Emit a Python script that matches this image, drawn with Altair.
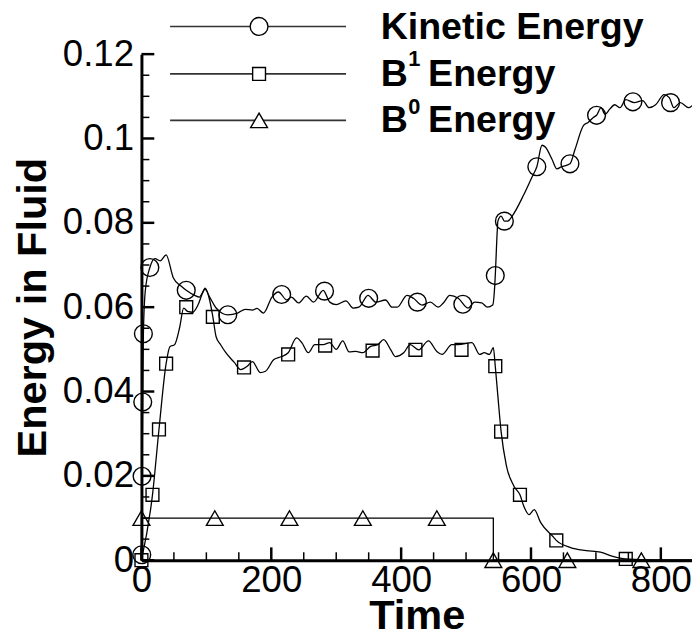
import altair as alt
import pandas as pd

# ---------------- data ----------------
ke_t = [0, 0.5, 1, 2, 3, 6, 13, 21, 29, 38, 49, 61, 69, 82, 89, 98, 105, 115, 125, 133,
        148, 160, 171, 178, 188, 201, 211, 224, 231, 242, 254, 265, 280, 290, 300, 315,
        326, 335, 349, 361, 376, 386, 394, 409, 419, 432, 445, 457, 465, 475, 488, 503,
        513, 524, 533, 541, 544, 545, 548, 549, 554, 559, 564, 571, 589, 602, 609, 617,
        622, 632, 640, 647, 660, 668, 681, 688, 696, 701, 708, 714, 721, 729, 737, 746,
        759, 772, 782, 792, 805, 813, 820, 830, 843, 848]
ke_v = [0.0, 0.0013, 0.0199, 0.0375, 0.0537, 0.0640, 0.0694, 0.0715, 0.0710, 0.0724,
        0.0670, 0.0650, 0.0640, 0.0628, 0.0624, 0.0642, 0.0624, 0.0598, 0.0585, 0.0582,
        0.0586, 0.0595, 0.0593, 0.0597, 0.0586, 0.0624, 0.0636, 0.0617, 0.0624, 0.0610,
        0.0626, 0.0612, 0.0640, 0.0612, 0.0606, 0.0615, 0.0598, 0.0600, 0.0628, 0.0612,
        0.0617, 0.0600, 0.0600, 0.0628, 0.0621, 0.0605, 0.0612, 0.0600, 0.0610, 0.0628,
        0.0621, 0.0598, 0.0612, 0.0610, 0.0600, 0.0605, 0.0647, 0.0675, 0.0780, 0.0804,
        0.0816, 0.0804, 0.0804, 0.0816, 0.0867, 0.0910, 0.0933, 0.0984, 0.0980, 0.0952,
        0.0928, 0.0933, 0.0940, 0.0975, 0.1031, 0.1038, 0.1050, 0.1055, 0.1073, 0.1057,
        0.1069, 0.1080, 0.1073, 0.1092, 0.1085, 0.1090, 0.1073, 0.1080, 0.1104, 0.1097,
        0.1073, 0.1085, 0.1073, 0.1078]
ke_mark_t = [0.5, 1, 2, 3, 13, 69, 133, 216, 282, 350, 425, 495, 545, 559, 609, 660, 701, 757, 815]
ke_mark_v = [0.0013, 0.0199, 0.0375, 0.0537, 0.0694, 0.0640, 0.0582, 0.0630, 0.0638, 0.0621,
             0.0612, 0.0607, 0.0675, 0.0804, 0.0933, 0.0940, 0.1055, 0.1087, 0.1085]

b1_t = [0, 17, 27, 38, 44, 51, 59, 65, 71, 79, 87, 94, 98, 105, 110, 115, 122, 130, 143,
        153, 163, 171, 183, 191, 204, 216, 226, 239, 247, 257, 267, 280, 290, 300, 310,
        320, 330, 341, 353, 364, 373, 384, 391, 404, 414, 427, 442, 455, 463, 478, 488,
        509, 521, 528, 536, 542, 545, 549, 554, 562, 574, 583, 589, 597, 605, 615, 635,
        639, 661, 685, 707, 726, 746, 780, 848]
b1_v = [0.0, 0.0155, 0.0310, 0.0466, 0.0507, 0.0511, 0.0553, 0.0598, 0.0590, 0.0588,
        0.0605, 0.0633, 0.0645, 0.0617, 0.0577, 0.0530, 0.0511, 0.0492, 0.0469, 0.0452,
        0.0460, 0.0471, 0.0445, 0.0448, 0.0476, 0.0483, 0.0492, 0.0527, 0.0516, 0.0492,
        0.0511, 0.0511, 0.0516, 0.0500, 0.0520, 0.0494, 0.0495, 0.0492, 0.0507, 0.0511,
        0.0523, 0.0499, 0.0483, 0.0492, 0.0511, 0.0499, 0.0520, 0.0495, 0.0488, 0.0511,
        0.0511, 0.0516, 0.0488, 0.0492, 0.0488, 0.0504, 0.0460, 0.0389, 0.0305, 0.0225,
        0.0175, 0.0155, 0.0128, 0.0108, 0.0120, 0.0089, 0.0054, 0.0047, 0.0030, 0.0023,
        0.0019, 0.0009, 0.0003, 0.0001, 0.0]
b1_mark_t = [0, 17, 27, 38, 69, 110, 158, 226, 283, 356, 422, 493, 545, 554, 583, 639, 746]
b1_mark_v = [0.0, 0.0155, 0.0310, 0.0466, 0.0600, 0.0577, 0.0457, 0.0488, 0.0509, 0.0497,
             0.0499, 0.0499, 0.0460, 0.0305, 0.0155, 0.0047, 0.0003]

b0_t = [0, 0, 542, 542, 848]
b0_v = [0.0, 0.01, 0.01, 0.0, 0.0]
b0_mark_t = [0, 113, 228, 341, 455, 542, 656, 770]
b0_mark_v = [0.01, 0.01, 0.01, 0.01, 0.01, 0.0, 0.0, 0.0]

x_major = [0, 200, 400, 600, 800]
x_minor = [50, 100, 150, 250, 300, 350, 450, 500, 550, 650, 700, 750]
y_major = [0, 0.02, 0.04, 0.06, 0.08, 0.1, 0.12]
y_minor = [0.005, 0.01, 0.015, 0.025, 0.03, 0.035, 0.045, 0.05, 0.055, 0.065, 0.07,
           0.075, 0.085, 0.09, 0.095, 0.105, 0.11, 0.115]

X_MAX = 848
W, H = 557, 512
FONT = "Liberation Sans"

# ---------------- chart ----------------
xs = alt.Scale(domain=[0, X_MAX], nice=False, zero=False)
ys = alt.Scale(domain=[0, 0.12], nice=False, zero=False)

x_axis = alt.Axis(values=x_major, labelExpr="format(datum.value, 'd')", title="Time",
                  ticks=False, tickSize=0,
                  domainColor="black", domainWidth=3, grid=False,
                  labelFont=FONT, labelFontSize=37, labelColor="black", labelPadding=3,
                  labelFlush=False, labelOverlap=False, labelBound=False,
                  titleFont=FONT, titleFontSize=42, titleFontWeight="bold", titleColor="black",
                  titleBaseline="alphabetic", titleY=69)
y_axis = alt.Axis(values=y_major, labelExpr="format(datum.value, '.2~f')", title="Energy in Fluid",
                  ticks=False, tickSize=0,
                  domainColor="black", domainWidth=3, grid=False,
                  labelFont=FONT, labelFontSize=37, labelColor="black", labelPadding=8,
                  labelFlush=False, labelOverlap=False, labelBound=False,
                  titleFont=FONT, titleFontSize=42, titleFontWeight="bold", titleColor="black",
                  titleAngle=270, titleAlign="center", titleBaseline="alphabetic",
                  titleX=-97, titleY=H / 2)

ke_df = pd.DataFrame({"t": ke_t, "v": ke_v})
b1_df = pd.DataFrame({"t": b1_t, "v": b1_v})
b0_df = pd.DataFrame({"t": b0_t, "v": b0_v, "i": list(range(len(b0_t)))})
ke_m = pd.DataFrame({"t": ke_mark_t, "v": ke_mark_v})
b1_m = pd.DataFrame({"t": b1_mark_t, "v": b1_mark_v})
b0_m = pd.DataFrame({"t": b0_mark_t, "v": b0_mark_v})

X = alt.X("t:Q", scale=xs, axis=x_axis)
Y = alt.Y("v:Q", scale=ys, axis=y_axis)

ke_line = alt.Chart(ke_df).mark_line(color="black", strokeWidth=1.3, interpolate="monotone").encode(x=X, y=Y)
b1_line = alt.Chart(b1_df).mark_line(color="black", strokeWidth=1.3, interpolate="monotone").encode(x=X, y=Y)
b0_line = alt.Chart(b0_df).mark_line(color="black", strokeWidth=1.3).encode(x=X, y=Y, order="i:Q")

pt = dict(filled=False, color="black", strokeWidth=1.4, opacity=1)
ke_pts = alt.Chart(ke_m).mark_point(shape="circle", size=324, **pt).encode(x=X, y=Y)
b1_pts = alt.Chart(b1_m).mark_point(shape="square", size=169, **pt).encode(x=X, y=Y)
b0_pts = alt.Chart(b0_m).mark_point(shape="triangle-up", size=289, **pt).encode(x=X, y=Y)

# inward ticks
xt_major = alt.Chart(pd.DataFrame({"t": x_major})).mark_rule(color="black", strokeWidth=2.5).encode(
    x=X, y=alt.value(H), y2=alt.value(H - 13))
xt_minor = alt.Chart(pd.DataFrame({"t": x_minor})).mark_rule(color="black", strokeWidth=1.5).encode(
    x=X, y=alt.value(H), y2=alt.value(H - 8))
yt_major = alt.Chart(pd.DataFrame({"v": y_major})).mark_rule(color="black", strokeWidth=2.5).encode(
    y=Y, x=alt.value(0), x2=alt.value(13))
yt_minor = alt.Chart(pd.DataFrame({"v": y_minor})).mark_rule(color="black", strokeWidth=1.5).encode(
    y=Y, x=alt.value(0), x2=alt.value(8))

# legend (drawn in pixel space, above the plot)
one = pd.DataFrame({"k": [0]})
leg_rows = [("circle", 324, -28), ("square", 169, 20), ("triangle-up", 289, 67)]
legend_layers = []
for shape, size, yy in leg_rows:
    legend_layers.append(alt.Chart(one).mark_rule(color="#333333", strokeWidth=1.6).encode(
        x=alt.value(29), x2=alt.value(207), y=alt.value(yy)))
    legend_layers.append(alt.Chart(one).mark_point(shape=shape, size=size, filled=True, fill="white",
                                                   stroke="black", strokeWidth=1.4, opacity=1).encode(
        x=alt.value(119), y=alt.value(yy)))

txt = dict(font=FONT, fontWeight="bold", align="left", baseline="alphabetic", color="black")
legend_layers += [
    alt.Chart(one).mark_text(text="Kinetic Energy", fontSize=38, **txt).encode(x=alt.value(242), y=alt.value(-15)),
    alt.Chart(one).mark_text(text="B", fontSize=38, **txt).encode(x=alt.value(242), y=alt.value(32)),
    alt.Chart(one).mark_text(text="1", fontSize=22, **txt).encode(x=alt.value(270), y=alt.value(12)),
    alt.Chart(one).mark_text(text="Energy", fontSize=38, **txt).encode(x=alt.value(290), y=alt.value(32)),
    alt.Chart(one).mark_text(text="B", fontSize=38, **txt).encode(x=alt.value(242), y=alt.value(79)),
    alt.Chart(one).mark_text(text="0", fontSize=22, **txt).encode(x=alt.value(270), y=alt.value(61)),
    alt.Chart(one).mark_text(text="Energy", fontSize=38, **txt).encode(x=alt.value(290), y=alt.value(79)),
]

chart = alt.layer(
    ke_line, b1_line, b0_line, xt_major, xt_minor, yt_major, yt_minor,
    ke_pts, b1_pts, b0_pts, *legend_layers
).properties(
    width=W, height=H,
    padding={"left": 135, "top": 43, "right": 0, "bottom": 74},
    autosize=alt.AutoSizeParams(type="none"),
    background="white",
).configure_view(stroke=None)

chart.save("out.html", embed_options={"renderer": "svg", "actions": False})
